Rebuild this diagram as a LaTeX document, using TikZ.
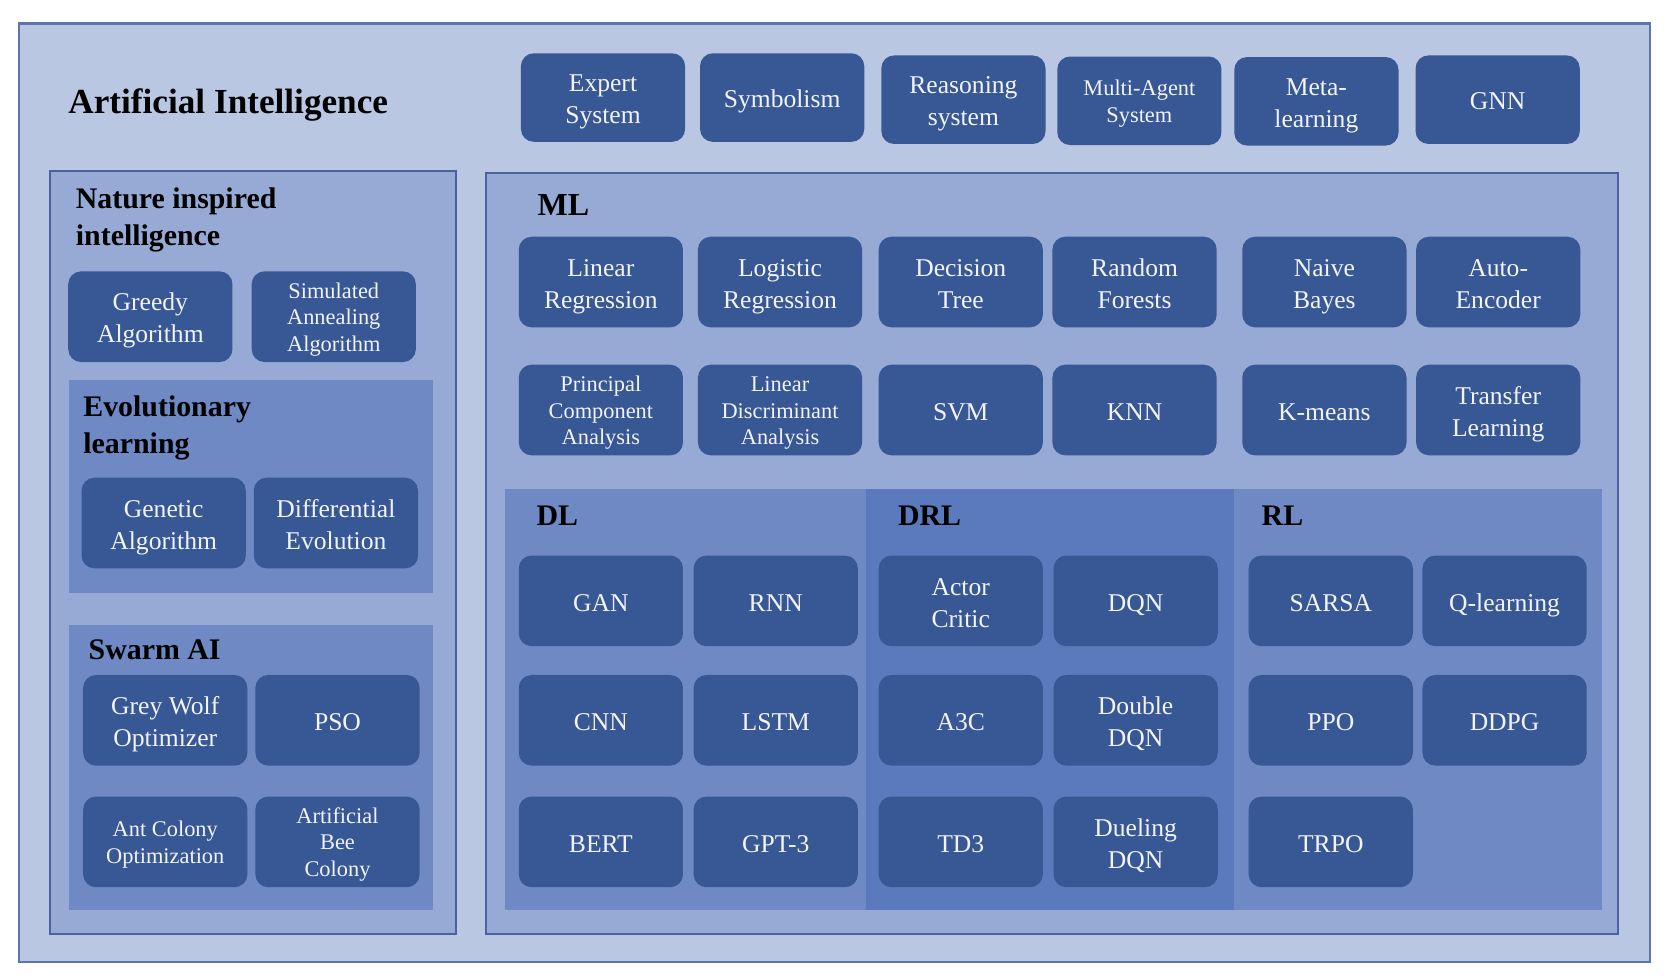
\documentclass[tikz,border=0pt]{standalone}
\usepackage{fontspec}
\setmainfont{Liberation Serif}
\definecolor{outerbg}{HTML}{B9C7E3}
\definecolor{outerln}{HTML}{5E74AE}
\definecolor{midbg}{HTML}{97AAD5}
\definecolor{midln}{HTML}{4C62A0}
\definecolor{regbg}{HTML}{6E89C3}
\definecolor{drlbg}{HTML}{5A7ABD}
\definecolor{boxc}{HTML}{375795}
\definecolor{boxtxt}{HTML}{F2F4F8}
\newcommand\bxT[1]{\rule{0pt}{25pt}#1\rule[-6pt]{0pt}{6pt}}
\newcommand\bxS[1]{\rule{0pt}{20pt}#1\rule[-5pt]{0pt}{5pt}}
\tikzset{
  bx/.style={fill=boxc, rounded corners=12pt, text=boxtxt, align=center, inner sep=0pt,
    minimum width=154pt, minimum height=85pt, font=\fontsize{24}{30}\selectfont},
  bxs/.style={bx, font=\fontsize{21}{25}\selectfont},
  ttl/.style={anchor=north west, inner sep=0pt, align=left, text=black,
    font=\bfseries\fontsize{28}{35}\selectfont},
}
\begin{document}
\begin{tikzpicture}[x=1pt,y=-1pt]
\useasboundingbox (0,0) rectangle (1568,919);
\fill[white] (0,0) rectangle (1568,919);
% outer
\draw[fill=outerbg, draw=outerln, line width=2pt] (18,22) rectangle (1547,902);
\node[ttl, font=\bfseries\fontsize{33}{38}\selectfont] (ai) at (64,83) {Artificial Intelligence};
% top row
\node[bx, minimum height=83pt] (es) at (565.5,91.5) {\bxT{Expert\\System}};
\node[bx, minimum height=83pt] (sym) at (733.5,91.5) {\bxT{Symbolism}};
\node[bx, minimum height=83pt] (rs) at (903.5,93.5) {\bxT{Reasoning\\system}};
\node[bxs, minimum height=83pt] (mas) at (1068.5,94.5) {\bxS{Multi-Agent\\System}};
\node[bx, minimum height=83pt] (meta) at (1234.5,95) {\bxT{Meta-\\learning}};
\node[bx, minimum height=83pt] (gnn) at (1404.5,93.5) {\bxT{GNN}};
% nature inspired
\draw[fill=midbg, draw=midln, line width=2pt] (47,160) rectangle (428,876);
\node[ttl] (nat) at (71,176) {Nature inspired\\intelligence};
\node[bx] (greedy) at (141,297) {\bxT{Greedy\\Algorithm}};
\node[bxs] (sa) at (313,297) {\bxS{Simulated\\Annealing\\Algorithm}};
\fill[regbg] (65,356) rectangle (406,556);
\node[ttl] (evo) at (78,371) {Evolutionary\\learning};
\node[bx] (ga) at (153.5,490.5) {\bxT{Genetic\\Algorithm}};
\node[bx] (de) at (315,490.5) {\bxT{Differential\\Evolution}};
\fill[regbg] (65,586) rectangle (406,853);
\node[ttl] (swarm) at (83,600) {Swarm AI};
\node[bx] (gwo) at (155,675.5) {\bxT{Grey Wolf\\Optimizer}};
\node[bx] (pso) at (316.5,675.5) {\bxT{PSO}};
\node[bxs] (aco) at (155,789.5) {\bxS{Ant Colony\\Optimization}};
\node[bxs] (abc) at (316.5,789.5) {\bxS{Artificial\\Bee\\Colony}};
% ML
\draw[fill=midbg, draw=midln, line width=2pt] (456,162) rectangle (1517,876);
\node[ttl, font=\bfseries\fontsize{30}{36}\selectfont] (ml) at (504,182) {ML};
\node[bx] (linr) at (563.5,264.5) {\bxT{Linear\\Regression}};
\node[bx] (logr) at (731.5,264.5) {\bxT{Logistic\\Regression}};
\node[bx] (dt) at (901,264.5) {\bxT{Decision\\Tree}};
\node[bx] (rf) at (1064,264.5) {\bxT{Random\\Forests}};
\node[bx] (nb) at (1242,264.5) {\bxT{Naive\\Bayes}};
\node[bx] (ae) at (1405,264.5) {\bxT{Auto-\\Encoder}};
\node[bxs] (pca) at (563.5,384.5) {\bxS{Principal\\Component\\Analysis}};
\node[bxs] (lda) at (731.5,384.5) {\bxS{Linear\\Discriminant\\Analysis}};
\node[bx] (svm) at (901,384.5) {\bxT{SVM}};
\node[bx] (knn) at (1064,384.5) {\bxT{KNN}};
\node[bx] (km) at (1242,384.5) {\bxT{K-means}};
\node[bx] (tl) at (1405,384.5) {\bxT{Transfer\\Learning}};
% DL / DRL / RL
\fill[regbg] (474,459) rectangle (812,853);
\fill[drlbg] (812,459) rectangle (1157,853);
\fill[regbg] (1157,459) rectangle (1502,853);
\node[ttl] (dl) at (503,474) {DL};
\node[ttl] (drl) at (842,474) {DRL};
\node[ttl] (rl) at (1183,474) {RL};
\node[bx] (gan) at (563.5,563.5) {\bxT{GAN}};
\node[bx] (rnn) at (727.5,563.5) {\bxT{RNN}};
\node[bx] (cnn) at (563.5,675.5) {\bxT{CNN}};
\node[bx] (lstm) at (727.5,675.5) {\bxT{LSTM}};
\node[bx] (bert) at (563.5,789.5) {\bxT{BERT}};
\node[bx] (gpt) at (727.5,789.5) {\bxT{GPT-3}};
\node[bx] (ac) at (901,563.5) {\bxT{Actor\\Critic}};
\node[bx] (dqn) at (1065,563.5) {\bxT{DQN}};
\node[bx] (a3c) at (901,675.5) {\bxT{A3C}};
\node[bx] (ddqn) at (1065,675.5) {\bxT{Double\\DQN}};
\node[bx] (td3) at (901,789.5) {\bxT{TD3}};
\node[bx] (duel) at (1065,789.5) {\bxT{Dueling\\DQN}};
\node[bx] (sarsa) at (1248,563.5) {\bxT{SARSA}};
\node[bx] (ql) at (1411,563.5) {\bxT{Q-learning}};
\node[bx] (ppo) at (1248,675.5) {\bxT{PPO}};
\node[bx] (ddpg) at (1411,675.5) {\bxT{DDPG}};
\node[bx] (trpo) at (1248,789.5) {\bxT{TRPO}};
\end{tikzpicture}
\end{document}
